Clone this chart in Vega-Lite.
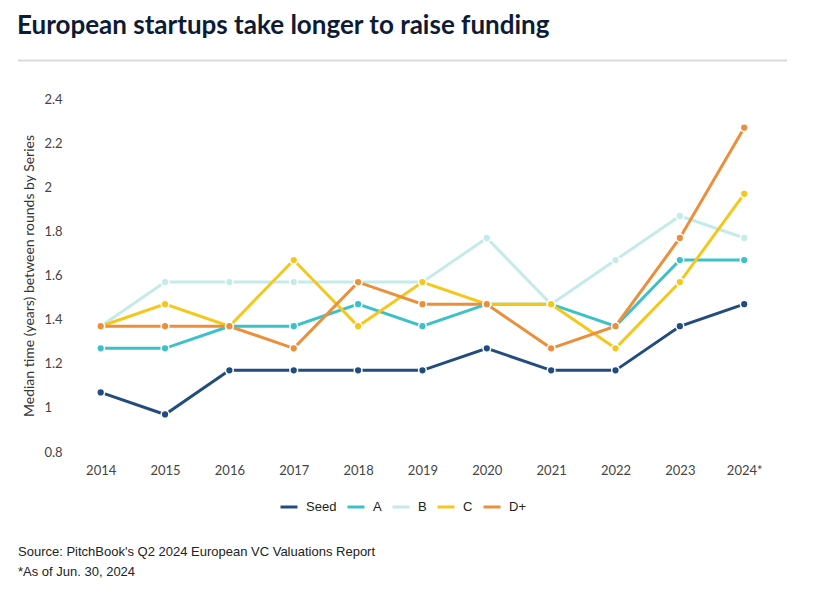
{
  "$schema": "https://vega.github.io/schema/vega-lite/v6.json",
  "padding": {"left": 17, "right": 29, "top": 12, "bottom": 11},
  "background": "white",
  "title": {
    "text": "European startups take longer to raise funding",
    "anchor": "start",
    "font": "Lato",
    "fontSize": 26,
    "fontWeight": 700,
    "color": "#0d1b36",
    "baseline": "alphabetic",
    "offset": 0
  },
  "resolve": {"scale": {"color": "independent"}, "legend": {"color": "independent"}},
  "config": {
    "view": {"stroke": null},
    "concat": {"spacing": 32},
    "legend": {
      "orient": "bottom",
      "direction": "horizontal",
      "title": null,
      "labelFont": "Liberation Sans",
      "labelFontSize": 13,
      "labelColor": "#222222",
      "symbolType": "stroke",
      "symbolSize": 289,
      "symbolStrokeWidth": 3,
      "columnPadding": 4,
      "labelOffset": 7,
      "offset": 20,
      "layout": {"bottom": {"anchor": "middle"}}
    }
  },
  "vconcat": [
    {
      "width": 769,
      "height": 353,
      "layer": [
        {
          "data": {"values": [{}]},
          "mark": {"type": "rule", "color": "#d9d9d6", "strokeWidth": 2, "clip": false},
          "encoding": {
            "y": {"datum": 2.574, "type": "quantitative", "scale": {"domain": [0.8, 2.4], "nice": false, "zero": false}}
          }
        },
        {
          "data": {
            "values": [
              {"year": 2014, "series": "Seed", "value": 1.07},
              {"year": 2015, "series": "Seed", "value": 0.97},
              {"year": 2016, "series": "Seed", "value": 1.17},
              {"year": 2017, "series": "Seed", "value": 1.17},
              {"year": 2018, "series": "Seed", "value": 1.17},
              {"year": 2019, "series": "Seed", "value": 1.17},
              {"year": 2020, "series": "Seed", "value": 1.27},
              {"year": 2021, "series": "Seed", "value": 1.17},
              {"year": 2022, "series": "Seed", "value": 1.17},
              {"year": 2023, "series": "Seed", "value": 1.37},
              {"year": 2024, "series": "Seed", "value": 1.47},
              {"year": 2014, "series": "A", "value": 1.27},
              {"year": 2015, "series": "A", "value": 1.27},
              {"year": 2016, "series": "A", "value": 1.37},
              {"year": 2017, "series": "A", "value": 1.37},
              {"year": 2018, "series": "A", "value": 1.47},
              {"year": 2019, "series": "A", "value": 1.37},
              {"year": 2020, "series": "A", "value": 1.47},
              {"year": 2021, "series": "A", "value": 1.47},
              {"year": 2022, "series": "A", "value": 1.37},
              {"year": 2023, "series": "A", "value": 1.67},
              {"year": 2024, "series": "A", "value": 1.67},
              {"year": 2014, "series": "B", "value": 1.37},
              {"year": 2015, "series": "B", "value": 1.57},
              {"year": 2016, "series": "B", "value": 1.57},
              {"year": 2017, "series": "B", "value": 1.57},
              {"year": 2018, "series": "B", "value": 1.57},
              {"year": 2019, "series": "B", "value": 1.57},
              {"year": 2020, "series": "B", "value": 1.77},
              {"year": 2021, "series": "B", "value": 1.47},
              {"year": 2022, "series": "B", "value": 1.67},
              {"year": 2023, "series": "B", "value": 1.87},
              {"year": 2024, "series": "B", "value": 1.77},
              {"year": 2014, "series": "C", "value": 1.37},
              {"year": 2015, "series": "C", "value": 1.47},
              {"year": 2016, "series": "C", "value": 1.37},
              {"year": 2017, "series": "C", "value": 1.67},
              {"year": 2018, "series": "C", "value": 1.37},
              {"year": 2019, "series": "C", "value": 1.57},
              {"year": 2020, "series": "C", "value": 1.47},
              {"year": 2021, "series": "C", "value": 1.47},
              {"year": 2022, "series": "C", "value": 1.27},
              {"year": 2023, "series": "C", "value": 1.57},
              {"year": 2024, "series": "C", "value": 1.97},
              {"year": 2014, "series": "D+", "value": 1.37},
              {"year": 2015, "series": "D+", "value": 1.37},
              {"year": 2016, "series": "D+", "value": 1.37},
              {"year": 2017, "series": "D+", "value": 1.27},
              {"year": 2018, "series": "D+", "value": 1.57},
              {"year": 2019, "series": "D+", "value": 1.47},
              {"year": 2020, "series": "D+", "value": 1.47},
              {"year": 2021, "series": "D+", "value": 1.27},
              {"year": 2022, "series": "D+", "value": 1.37},
              {"year": 2023, "series": "D+", "value": 1.77},
              {"year": 2024, "series": "D+", "value": 2.27}
            ]
          },
          "mark": {
            "type": "line",
            "strokeWidth": 3,
            "point": {"filled": true, "size": 60, "stroke": "white", "strokeWidth": 1.5}
          },
          "encoding": {
            "x": {
              "field": "year",
              "type": "quantitative",
              "scale": {"domain": [2012.715, 2024.665], "nice": false, "zero": false},
              "axis": {
                "values": [2014, 2015, 2016, 2017, 2018, 2019, 2020, 2021, 2022, 2023, 2024],
                "format": "d",
                "labelExpr": "datum.value == 2024 ? '2024*' : datum.label",
                "title": null,
                "domain": false,
                "ticks": false,
                "tickSize": 0,
                "grid": false,
                "labelFont": "Lato",
                "labelFontSize": 13,
                "labelColor": "#444444",
                "labelPadding": 12
              }
            },
            "y": {
              "field": "value",
              "type": "quantitative",
              "scale": {"domain": [0.8, 2.4], "nice": false, "zero": false},
              "axis": {
                "values": [0.8, 1, 1.2, 1.4, 1.6, 1.8, 2, 2.2, 2.4],
                "format": "~g",
                "offset": -26,
                "labelAlign": "left",
                "labelPadding": 0,
                "tickSize": 0,
                "ticks": false,
                "domain": false,
                "grid": false,
                "title": "Median time (years) between rounds by Series",
                "titleFont": "Lato",
                "titleFontSize": 14,
                "titleFontWeight": "normal",
                "titleColor": "#333333",
                "titlePadding": 8,
                "labelFont": "Lato",
                "labelFontSize": 13,
                "labelColor": "#444444"
              }
            },
            "color": {
              "field": "series",
              "type": "nominal",
              "sort": ["Seed", "A", "B", "C", "D+"],
              "scale": {
                "domain": ["Seed", "A", "B", "C", "D+"],
                "range": ["#214c7d", "#3cc1c8", "#c4ebe9", "#f6c71b", "#eb8f3a"]
              },
              "legend": {"symbolType": "stroke", "title": null}
            }
          }
        }
      ]
    },
    {
      "width": 400,
      "height": 20,
      "data": {
        "values": [
          {"line": 0, "text": "Source: PitchBook's Q2 2024 European VC Valuations Report"},
          {"line": 1, "text": "*As of Jun. 30, 2024"}
        ]
      },
      "mark": {"type": "text", "align": "left", "baseline": "middle", "font": "Liberation Sans", "fontSize": 13, "color": "#222222"},
      "encoding": {
        "x": {"datum": 0, "type": "quantitative", "scale": {"domain": [0, 1]}, "axis": null},
        "y": {"field": "line", "type": "ordinal", "axis": null, "scale": {"type": "point", "padding": 0}},
        "text": {"field": "text"}
      }
    }
  ]
}
